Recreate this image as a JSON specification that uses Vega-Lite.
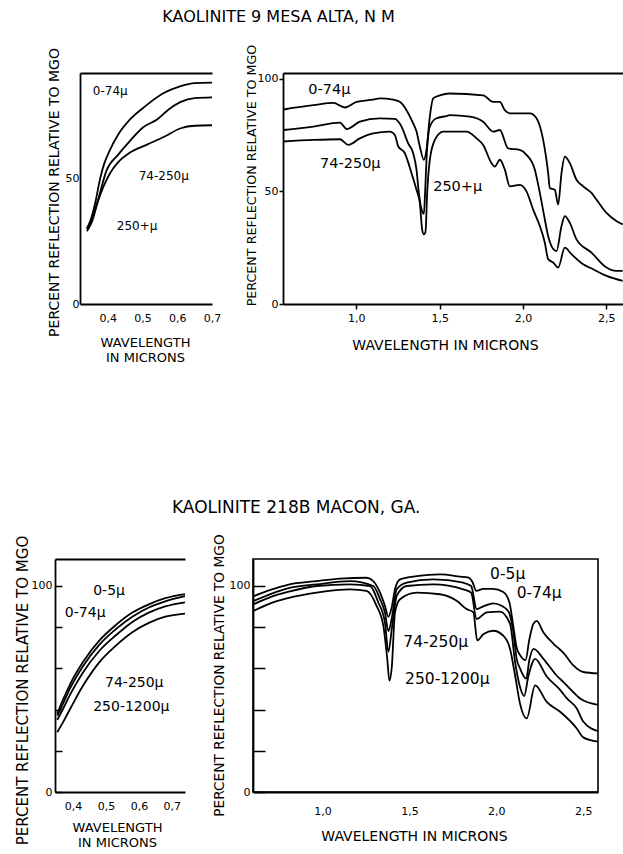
{
  "$schema": "https://vega.github.io/schema/vega-lite/v6.json",
  "background": "white",
  "padding": {"left": 10, "top": 9, "right": 0, "bottom": 0},
  "config": {
    "font": "DejaVu Sans",
    "view": {"stroke": null},
    "axis": {
      "labelFont": "DejaVu Sans", "titleFont": "DejaVu Sans",
      "labelFontSize": 11, "labelColor": "black", "titleColor": "black",
      "domainColor": "black", "domainWidth": 1.8, "tickColor": "black", "tickWidth": 1.5,
      "grid": false, "titleFontWeight": "normal", "labelFontWeight": "normal",
      "labelFlush": false, "labelOverlap": false
    },
    "title": {"font": "DejaVu Sans", "fontSize": 16, "fontWeight": "normal", "color": "black"},
    "line": {"color": "black", "strokeWidth": 1.8, "interpolate": "monotone"},
    "text": {"color": "black", "fontSize": 12.5, "align": "left", "baseline": "middle"}
  },
  "datasets": {
    "c1": [
      {"series": "0-74", "wavelength": 0.340, "reflectance": 30},
      {"series": "0-74", "wavelength": 0.352, "reflectance": 34},
      {"series": "0-74", "wavelength": 0.365, "reflectance": 41},
      {"series": "0-74", "wavelength": 0.378, "reflectance": 50},
      {"series": "0-74", "wavelength": 0.390, "reflectance": 56},
      {"series": "0-74", "wavelength": 0.405, "reflectance": 61},
      {"series": "0-74", "wavelength": 0.430, "reflectance": 67.5},
      {"series": "0-74", "wavelength": 0.464, "reflectance": 73.5},
      {"series": "0-74", "wavelength": 0.510, "reflectance": 79},
      {"series": "0-74", "wavelength": 0.561, "reflectance": 84},
      {"series": "0-74", "wavelength": 0.610, "reflectance": 86.8},
      {"series": "0-74", "wavelength": 0.650, "reflectance": 88},
      {"series": "0-74", "wavelength": 0.700, "reflectance": 88.2},
      {"series": "74-250", "wavelength": 0.340, "reflectance": 30},
      {"series": "74-250", "wavelength": 0.355, "reflectance": 34},
      {"series": "74-250", "wavelength": 0.372, "reflectance": 41.5},
      {"series": "74-250", "wavelength": 0.396, "reflectance": 53},
      {"series": "74-250", "wavelength": 0.430, "reflectance": 59.5},
      {"series": "74-250", "wavelength": 0.464, "reflectance": 65},
      {"series": "74-250", "wavelength": 0.503, "reflectance": 70.5},
      {"series": "74-250", "wavelength": 0.542, "reflectance": 73.5},
      {"series": "74-250", "wavelength": 0.575, "reflectance": 77.5},
      {"series": "74-250", "wavelength": 0.610, "reflectance": 80.5},
      {"series": "74-250", "wavelength": 0.650, "reflectance": 82},
      {"series": "74-250", "wavelength": 0.700, "reflectance": 82.3},
      {"series": "250+", "wavelength": 0.340, "reflectance": 29},
      {"series": "250+", "wavelength": 0.355, "reflectance": 33},
      {"series": "250+", "wavelength": 0.372, "reflectance": 41},
      {"series": "250+", "wavelength": 0.406, "reflectance": 52},
      {"series": "250+", "wavelength": 0.430, "reflectance": 56.5},
      {"series": "250+", "wavelength": 0.464, "reflectance": 60.3},
      {"series": "250+", "wavelength": 0.513, "reflectance": 63.5},
      {"series": "250+", "wavelength": 0.561, "reflectance": 66.5},
      {"series": "250+", "wavelength": 0.610, "reflectance": 70},
      {"series": "250+", "wavelength": 0.650, "reflectance": 71},
      {"series": "250+", "wavelength": 0.700, "reflectance": 71.2}
    ],
    "t1": [
      {"label": "0-74μ", "wavelength": 0.357, "reflectance": 85},
      {"label": "74-250μ", "wavelength": 0.489, "reflectance": 51},
      {"label": "250+μ", "wavelength": 0.426, "reflectance": 31}
    ],
    "c2": [
      {"series": "0-74", "wavelength": 0.562, "reflectance": 86.3},
      {"series": "0-74", "wavelength": 0.742, "reflectance": 88.2},
      {"series": "0-74", "wavelength": 0.862, "reflectance": 89.2},
      {"series": "0-74", "wavelength": 0.932, "reflectance": 87.2},
      {"series": "0-74", "wavelength": 1.002, "reflectance": 89.7},
      {"series": "0-74", "wavelength": 1.101, "reflectance": 90.7},
      {"series": "0-74", "wavelength": 1.141, "reflectance": 91.2},
      {"series": "0-74", "wavelength": 1.221, "reflectance": 90.7},
      {"series": "0-74", "wavelength": 1.261, "reflectance": 89.7},
      {"series": "0-74", "wavelength": 1.301, "reflectance": 86},
      {"series": "0-74", "wavelength": 1.341, "reflectance": 80.1},
      {"series": "0-74", "wavelength": 1.361, "reflectance": 76.5},
      {"series": "0-74", "wavelength": 1.381, "reflectance": 69.9},
      {"series": "0-74", "wavelength": 1.405, "reflectance": 64},
      {"series": "0-74", "wavelength": 1.421, "reflectance": 68.4},
      {"series": "0-74", "wavelength": 1.441, "reflectance": 83.1},
      {"series": "0-74", "wavelength": 1.461, "reflectance": 91.2},
      {"series": "0-74", "wavelength": 1.501, "reflectance": 92.6},
      {"series": "0-74", "wavelength": 1.561, "reflectance": 93.4},
      {"series": "0-74", "wavelength": 1.761, "reflectance": 92.6},
      {"series": "0-74", "wavelength": 1.821, "reflectance": 89.7},
      {"series": "0-74", "wavelength": 1.861, "reflectance": 89.7},
      {"series": "0-74", "wavelength": 1.891, "reflectance": 86},
      {"series": "0-74", "wavelength": 1.921, "reflectance": 84.6},
      {"series": "0-74", "wavelength": 2.041, "reflectance": 84.6},
      {"series": "0-74", "wavelength": 2.081, "reflectance": 82.4},
      {"series": "0-74", "wavelength": 2.121, "reflectance": 72.8},
      {"series": "0-74", "wavelength": 2.151, "reflectance": 58.1},
      {"series": "0-74", "wavelength": 2.161, "reflectance": 51.5},
      {"series": "0-74", "wavelength": 2.191, "reflectance": 50.7},
      {"series": "0-74", "wavelength": 2.211, "reflectance": 44.1},
      {"series": "0-74", "wavelength": 2.231, "reflectance": 58.1},
      {"series": "0-74", "wavelength": 2.251, "reflectance": 65.4},
      {"series": "0-74", "wavelength": 2.281, "reflectance": 62.5},
      {"series": "0-74", "wavelength": 2.321, "reflectance": 55.1},
      {"series": "0-74", "wavelength": 2.361, "reflectance": 52.2},
      {"series": "0-74", "wavelength": 2.411, "reflectance": 49.3},
      {"series": "0-74", "wavelength": 2.441, "reflectance": 46.3},
      {"series": "0-74", "wavelength": 2.501, "reflectance": 40.4},
      {"series": "0-74", "wavelength": 2.560, "reflectance": 36.8},
      {"series": "0-74", "wavelength": 2.598, "reflectance": 35.3},
      {"series": "74-250", "wavelength": 0.562, "reflectance": 77.2},
      {"series": "74-250", "wavelength": 0.742, "reflectance": 78.7},
      {"series": "74-250", "wavelength": 0.902, "reflectance": 80.5},
      {"series": "74-250", "wavelength": 0.942, "reflectance": 77.6},
      {"series": "74-250", "wavelength": 1.021, "reflectance": 80.9},
      {"series": "74-250", "wavelength": 1.141, "reflectance": 82.4},
      {"series": "74-250", "wavelength": 1.231, "reflectance": 82.1},
      {"series": "74-250", "wavelength": 1.271, "reflectance": 78.7},
      {"series": "74-250", "wavelength": 1.311, "reflectance": 71.3},
      {"series": "74-250", "wavelength": 1.341, "reflectance": 66.9},
      {"series": "74-250", "wavelength": 1.361, "reflectance": 59.6},
      {"series": "74-250", "wavelength": 1.375, "reflectance": 49.3},
      {"series": "74-250", "wavelength": 1.391, "reflectance": 42},
      {"series": "74-250", "wavelength": 1.405, "reflectance": 40},
      {"series": "74-250", "wavelength": 1.413, "reflectance": 50},
      {"series": "74-250", "wavelength": 1.421, "reflectance": 64},
      {"series": "74-250", "wavelength": 1.441, "reflectance": 78.7},
      {"series": "74-250", "wavelength": 1.481, "reflectance": 82.4},
      {"series": "74-250", "wavelength": 1.541, "reflectance": 83.4},
      {"series": "74-250", "wavelength": 1.561, "reflectance": 83.8},
      {"series": "74-250", "wavelength": 1.681, "reflectance": 83.1},
      {"series": "74-250", "wavelength": 1.761, "reflectance": 80.9},
      {"series": "74-250", "wavelength": 1.821, "reflectance": 76.5},
      {"series": "74-250", "wavelength": 1.861, "reflectance": 77.2},
      {"series": "74-250", "wavelength": 1.911, "reflectance": 69.1},
      {"series": "74-250", "wavelength": 1.981, "reflectance": 68.4},
      {"series": "74-250", "wavelength": 2.021, "reflectance": 66.2},
      {"series": "74-250", "wavelength": 2.071, "reflectance": 59.6},
      {"series": "74-250", "wavelength": 2.101, "reflectance": 49.3},
      {"series": "74-250", "wavelength": 2.131, "reflectance": 37.5},
      {"series": "74-250", "wavelength": 2.151, "reflectance": 30.1},
      {"series": "74-250", "wavelength": 2.171, "reflectance": 25.7},
      {"series": "74-250", "wavelength": 2.201, "reflectance": 23.5},
      {"series": "74-250", "wavelength": 2.231, "reflectance": 34.6},
      {"series": "74-250", "wavelength": 2.251, "reflectance": 39},
      {"series": "74-250", "wavelength": 2.281, "reflectance": 36},
      {"series": "74-250", "wavelength": 2.321, "reflectance": 28.7},
      {"series": "74-250", "wavelength": 2.411, "reflectance": 22.8},
      {"series": "74-250", "wavelength": 2.501, "reflectance": 16.2},
      {"series": "74-250", "wavelength": 2.560, "reflectance": 14.7},
      {"series": "74-250", "wavelength": 2.598, "reflectance": 14.7},
      {"series": "250+", "wavelength": 0.562, "reflectance": 72.1},
      {"series": "250+", "wavelength": 0.742, "reflectance": 72.8},
      {"series": "250+", "wavelength": 0.902, "reflectance": 73.1},
      {"series": "250+", "wavelength": 0.952, "reflectance": 70.6},
      {"series": "250+", "wavelength": 1.021, "reflectance": 73.5},
      {"series": "250+", "wavelength": 1.101, "reflectance": 75.7},
      {"series": "250+", "wavelength": 1.201, "reflectance": 76.5},
      {"series": "250+", "wavelength": 1.231, "reflectance": 75},
      {"series": "250+", "wavelength": 1.251, "reflectance": 70},
      {"series": "250+", "wavelength": 1.291, "reflectance": 66.9},
      {"series": "250+", "wavelength": 1.331, "reflectance": 58.1},
      {"series": "250+", "wavelength": 1.361, "reflectance": 50.7},
      {"series": "250+", "wavelength": 1.381, "reflectance": 44.9},
      {"series": "250+", "wavelength": 1.395, "reflectance": 33},
      {"series": "250+", "wavelength": 1.405, "reflectance": 30.9},
      {"series": "250+", "wavelength": 1.415, "reflectance": 32},
      {"series": "250+", "wavelength": 1.425, "reflectance": 49.3},
      {"series": "250+", "wavelength": 1.441, "reflectance": 64},
      {"series": "250+", "wavelength": 1.471, "reflectance": 72.8},
      {"series": "250+", "wavelength": 1.521, "reflectance": 76.5},
      {"series": "250+", "wavelength": 1.561, "reflectance": 76.5},
      {"series": "250+", "wavelength": 1.661, "reflectance": 76.5},
      {"series": "250+", "wavelength": 1.721, "reflectance": 73.5},
      {"series": "250+", "wavelength": 1.761, "reflectance": 70.6},
      {"series": "250+", "wavelength": 1.811, "reflectance": 62.5},
      {"series": "250+", "wavelength": 1.831, "reflectance": 61},
      {"series": "250+", "wavelength": 1.861, "reflectance": 64},
      {"series": "250+", "wavelength": 1.891, "reflectance": 59.6},
      {"series": "250+", "wavelength": 1.921, "reflectance": 52.2},
      {"series": "250+", "wavelength": 1.981, "reflectance": 52.9},
      {"series": "250+", "wavelength": 2.021, "reflectance": 50},
      {"series": "250+", "wavelength": 2.061, "reflectance": 41.9},
      {"series": "250+", "wavelength": 2.101, "reflectance": 34.6},
      {"series": "250+", "wavelength": 2.131, "reflectance": 27.2},
      {"series": "250+", "wavelength": 2.151, "reflectance": 19.9},
      {"series": "250+", "wavelength": 2.181, "reflectance": 18.4},
      {"series": "250+", "wavelength": 2.211, "reflectance": 16.2},
      {"series": "250+", "wavelength": 2.251, "reflectance": 25},
      {"series": "250+", "wavelength": 2.291, "reflectance": 22.1},
      {"series": "250+", "wavelength": 2.361, "reflectance": 17.6},
      {"series": "250+", "wavelength": 2.421, "reflectance": 15.4},
      {"series": "250+", "wavelength": 2.501, "reflectance": 12.5},
      {"series": "250+", "wavelength": 2.598, "reflectance": 10.3}
    ],
    "t2": [
      {"label": "0-74μ", "wavelength": 0.712, "reflectance": 95},
      {"label": "74-250μ", "wavelength": 0.782, "reflectance": 62},
      {"label": "250+μ", "wavelength": 1.461, "reflectance": 52}
    ],
    "c3": [
      {"series": "0-5", "wavelength": 0.352, "reflectance": 38},
      {"series": "0-5", "wavelength": 0.37, "reflectance": 45},
      {"series": "0-5", "wavelength": 0.39, "reflectance": 52},
      {"series": "0-5", "wavelength": 0.43, "reflectance": 63},
      {"series": "0-5", "wavelength": 0.48, "reflectance": 73.5},
      {"series": "0-5", "wavelength": 0.53, "reflectance": 81},
      {"series": "0-5", "wavelength": 0.58, "reflectance": 87},
      {"series": "0-5", "wavelength": 0.63, "reflectance": 91},
      {"series": "0-5", "wavelength": 0.68, "reflectance": 94},
      {"series": "0-5", "wavelength": 0.74, "reflectance": 96},
      {"series": "0-74", "wavelength": 0.352, "reflectance": 37},
      {"series": "0-74", "wavelength": 0.37, "reflectance": 43},
      {"series": "0-74", "wavelength": 0.39, "reflectance": 50},
      {"series": "0-74", "wavelength": 0.43, "reflectance": 61},
      {"series": "0-74", "wavelength": 0.48, "reflectance": 71.5},
      {"series": "0-74", "wavelength": 0.53, "reflectance": 79},
      {"series": "0-74", "wavelength": 0.58, "reflectance": 85},
      {"series": "0-74", "wavelength": 0.63, "reflectance": 89.5},
      {"series": "0-74", "wavelength": 0.68, "reflectance": 92.5},
      {"series": "0-74", "wavelength": 0.74, "reflectance": 95},
      {"series": "74-250", "wavelength": 0.352, "reflectance": 35},
      {"series": "74-250", "wavelength": 0.37, "reflectance": 40.5},
      {"series": "74-250", "wavelength": 0.39, "reflectance": 47},
      {"series": "74-250", "wavelength": 0.43, "reflectance": 58},
      {"series": "74-250", "wavelength": 0.48, "reflectance": 68.5},
      {"series": "74-250", "wavelength": 0.53, "reflectance": 76},
      {"series": "74-250", "wavelength": 0.58, "reflectance": 82.5},
      {"series": "74-250", "wavelength": 0.63, "reflectance": 87},
      {"series": "74-250", "wavelength": 0.68, "reflectance": 90},
      {"series": "74-250", "wavelength": 0.74, "reflectance": 92},
      {"series": "250-1200", "wavelength": 0.352, "reflectance": 29},
      {"series": "250-1200", "wavelength": 0.37, "reflectance": 34},
      {"series": "250-1200", "wavelength": 0.39, "reflectance": 40},
      {"series": "250-1200", "wavelength": 0.43, "reflectance": 51.5},
      {"series": "250-1200", "wavelength": 0.48, "reflectance": 63},
      {"series": "250-1200", "wavelength": 0.53, "reflectance": 71},
      {"series": "250-1200", "wavelength": 0.58, "reflectance": 77.5},
      {"series": "250-1200", "wavelength": 0.63, "reflectance": 82},
      {"series": "250-1200", "wavelength": 0.68, "reflectance": 85},
      {"series": "250-1200", "wavelength": 0.74, "reflectance": 86.5}
    ],
    "t3": [
      {"label": "0-5μ", "wavelength": 0.461, "reflectance": 97.5},
      {"label": "0-74μ", "wavelength": 0.375, "reflectance": 87},
      {"label": "74-250μ", "wavelength": 0.497, "reflectance": 53},
      {"label": "250-1200μ", "wavelength": 0.461, "reflectance": 41}
    ],
    "c4": [
      {"series": "0-5", "wavelength": 0.605, "reflectance": 95},
      {"series": "0-5", "wavelength": 0.70, "reflectance": 98},
      {"series": "0-5", "wavelength": 0.80, "reflectance": 100.5},
      {"series": "0-5", "wavelength": 0.966, "reflectance": 102.3},
      {"series": "0-5", "wavelength": 1.10, "reflectance": 103.5},
      {"series": "0-5", "wavelength": 1.254, "reflectance": 103.9},
      {"series": "0-5", "wavelength": 1.292, "reflectance": 102.3},
      {"series": "0-5", "wavelength": 1.331, "reflectance": 96.7},
      {"series": "0-5", "wavelength": 1.359, "reflectance": 90.3},
      {"series": "0-5", "wavelength": 1.379, "reflectance": 85},
      {"series": "0-5", "wavelength": 1.398, "reflectance": 89.5},
      {"series": "0-5", "wavelength": 1.417, "reflectance": 98.3},
      {"series": "0-5", "wavelength": 1.446, "reflectance": 103.1},
      {"series": "0-5", "wavelength": 1.542, "reflectance": 104.7},
      {"series": "0-5", "wavelength": 1.676, "reflectance": 105.5},
      {"series": "0-5", "wavelength": 1.791, "reflectance": 104.5},
      {"series": "0-5", "wavelength": 1.84, "reflectance": 104},
      {"series": "0-5", "wavelength": 1.862, "reflectance": 102},
      {"series": "0-5", "wavelength": 1.885, "reflectance": 97.5},
      {"series": "0-5", "wavelength": 1.925, "reflectance": 98.5},
      {"series": "0-5", "wavelength": 1.98, "reflectance": 98.5},
      {"series": "0-5", "wavelength": 2.04, "reflectance": 97},
      {"series": "0-5", "wavelength": 2.075, "reflectance": 92},
      {"series": "0-5", "wavelength": 2.095, "reflectance": 82},
      {"series": "0-5", "wavelength": 2.117, "reflectance": 70},
      {"series": "0-5", "wavelength": 2.14, "reflectance": 66},
      {"series": "0-5", "wavelength": 2.168, "reflectance": 64},
      {"series": "0-5", "wavelength": 2.19, "reflectance": 74},
      {"series": "0-5", "wavelength": 2.213, "reflectance": 81.5},
      {"series": "0-5", "wavelength": 2.232, "reflectance": 83},
      {"series": "0-5", "wavelength": 2.271, "reflectance": 77.4},
      {"series": "0-5", "wavelength": 2.328, "reflectance": 72},
      {"series": "0-5", "wavelength": 2.367, "reflectance": 69},
      {"series": "0-5", "wavelength": 2.386, "reflectance": 67.5},
      {"series": "0-5", "wavelength": 2.443, "reflectance": 61.4},
      {"series": "0-5", "wavelength": 2.50, "reflectance": 58.2},
      {"series": "0-5", "wavelength": 2.585, "reflectance": 57.5},
      {"series": "0-74", "wavelength": 0.605, "reflectance": 92.7},
      {"series": "0-74", "wavelength": 0.70, "reflectance": 96},
      {"series": "0-74", "wavelength": 0.80, "reflectance": 98.8},
      {"series": "0-74", "wavelength": 0.966, "reflectance": 100.7},
      {"series": "0-74", "wavelength": 1.158, "reflectance": 102.3},
      {"series": "0-74", "wavelength": 1.292, "reflectance": 99.9},
      {"series": "0-74", "wavelength": 1.331, "reflectance": 93.5},
      {"series": "0-74", "wavelength": 1.359, "reflectance": 87.1},
      {"series": "0-74", "wavelength": 1.379, "reflectance": 78},
      {"series": "0-74", "wavelength": 1.40, "reflectance": 85},
      {"series": "0-74", "wavelength": 1.427, "reflectance": 98.3},
      {"series": "0-74", "wavelength": 1.484, "reflectance": 101.5},
      {"series": "0-74", "wavelength": 1.637, "reflectance": 103.1},
      {"series": "0-74", "wavelength": 1.81, "reflectance": 101.5},
      {"series": "0-74", "wavelength": 1.855, "reflectance": 99.9},
      {"series": "0-74", "wavelength": 1.887, "reflectance": 88.7},
      {"series": "0-74", "wavelength": 1.925, "reflectance": 90},
      {"series": "0-74", "wavelength": 1.983, "reflectance": 91.5},
      {"series": "0-74", "wavelength": 2.03, "reflectance": 90.3},
      {"series": "0-74", "wavelength": 2.07, "reflectance": 87.5},
      {"series": "0-74", "wavelength": 2.098, "reflectance": 77.4},
      {"series": "0-74", "wavelength": 2.117, "reflectance": 64.6},
      {"series": "0-74", "wavelength": 2.136, "reflectance": 60},
      {"series": "0-74", "wavelength": 2.172, "reflectance": 55},
      {"series": "0-74", "wavelength": 2.19, "reflectance": 64},
      {"series": "0-74", "wavelength": 2.215, "reflectance": 69.4},
      {"series": "0-74", "wavelength": 2.271, "reflectance": 64.6},
      {"series": "0-74", "wavelength": 2.347, "reflectance": 56.5},
      {"series": "0-74", "wavelength": 2.386, "reflectance": 53.3},
      {"series": "0-74", "wavelength": 2.43, "reflectance": 49.5},
      {"series": "0-74", "wavelength": 2.482, "reflectance": 45.3},
      {"series": "0-74", "wavelength": 2.585, "reflectance": 42.2},
      {"series": "74-250", "wavelength": 0.605, "reflectance": 91.1},
      {"series": "74-250", "wavelength": 0.70, "reflectance": 94.5},
      {"series": "74-250", "wavelength": 0.80, "reflectance": 97},
      {"series": "74-250", "wavelength": 0.966, "reflectance": 99.9},
      {"series": "74-250", "wavelength": 1.158, "reflectance": 100.7},
      {"series": "74-250", "wavelength": 1.273, "reflectance": 99.9},
      {"series": "74-250", "wavelength": 1.321, "reflectance": 91.9},
      {"series": "74-250", "wavelength": 1.359, "reflectance": 82.3},
      {"series": "74-250", "wavelength": 1.379, "reflectance": 68},
      {"series": "74-250", "wavelength": 1.40, "reflectance": 80},
      {"series": "74-250", "wavelength": 1.427, "reflectance": 95.1},
      {"series": "74-250", "wavelength": 1.484, "reflectance": 99.9},
      {"series": "74-250", "wavelength": 1.637, "reflectance": 100.7},
      {"series": "74-250", "wavelength": 1.81, "reflectance": 98.3},
      {"series": "74-250", "wavelength": 1.855, "reflectance": 96.7},
      {"series": "74-250", "wavelength": 1.887, "reflectance": 83.9},
      {"series": "74-250", "wavelength": 1.945, "reflectance": 87.1},
      {"series": "74-250", "wavelength": 2.021, "reflectance": 87.5},
      {"series": "74-250", "wavelength": 2.079, "reflectance": 81.5},
      {"series": "74-250", "wavelength": 2.108, "reflectance": 63},
      {"series": "74-250", "wavelength": 2.136, "reflectance": 51},
      {"series": "74-250", "wavelength": 2.16, "reflectance": 46.5},
      {"series": "74-250", "wavelength": 2.184, "reflectance": 56},
      {"series": "74-250", "wavelength": 2.223, "reflectance": 64.6},
      {"series": "74-250", "wavelength": 2.29, "reflectance": 56},
      {"series": "74-250", "wavelength": 2.367, "reflectance": 49.5},
      {"series": "74-250", "wavelength": 2.405, "reflectance": 45.5},
      {"series": "74-250", "wavelength": 2.463, "reflectance": 40.5},
      {"series": "74-250", "wavelength": 2.50, "reflectance": 34.2},
      {"series": "74-250", "wavelength": 2.585, "reflectance": 29.5},
      {"series": "250-1200", "wavelength": 0.605, "reflectance": 87.9},
      {"series": "250-1200", "wavelength": 0.70, "reflectance": 91.5},
      {"series": "250-1200", "wavelength": 0.80, "reflectance": 94},
      {"series": "250-1200", "wavelength": 0.966, "reflectance": 96.7},
      {"series": "250-1200", "wavelength": 1.158, "reflectance": 98.3},
      {"series": "250-1200", "wavelength": 1.254, "reflectance": 97.5},
      {"series": "250-1200", "wavelength": 1.311, "reflectance": 90.3},
      {"series": "250-1200", "wavelength": 1.35, "reflectance": 80.6},
      {"series": "250-1200", "wavelength": 1.372, "reflectance": 65},
      {"series": "250-1200", "wavelength": 1.385, "reflectance": 54},
      {"series": "250-1200", "wavelength": 1.398, "reflectance": 60},
      {"series": "250-1200", "wavelength": 1.417, "reflectance": 87.1},
      {"series": "250-1200", "wavelength": 1.446, "reflectance": 93.5},
      {"series": "250-1200", "wavelength": 1.542, "reflectance": 96.7},
      {"series": "250-1200", "wavelength": 1.676, "reflectance": 95.9},
      {"series": "250-1200", "wavelength": 1.772, "reflectance": 92.7},
      {"series": "250-1200", "wavelength": 1.829, "reflectance": 88.7},
      {"series": "250-1200", "wavelength": 1.868, "reflectance": 87.1},
      {"series": "250-1200", "wavelength": 1.89, "reflectance": 73.5},
      {"series": "250-1200", "wavelength": 1.925, "reflectance": 76.5},
      {"series": "250-1200", "wavelength": 1.983, "reflectance": 78.2},
      {"series": "250-1200", "wavelength": 2.04, "reflectance": 75.8},
      {"series": "250-1200", "wavelength": 2.079, "reflectance": 69.4},
      {"series": "250-1200", "wavelength": 2.108, "reflectance": 56.5},
      {"series": "250-1200", "wavelength": 2.136, "reflectance": 43},
      {"series": "250-1200", "wavelength": 2.175, "reflectance": 35.7},
      {"series": "250-1200", "wavelength": 2.223, "reflectance": 51.7},
      {"series": "250-1200", "wavelength": 2.29, "reflectance": 43.7},
      {"series": "250-1200", "wavelength": 2.367, "reflectance": 38.9},
      {"series": "250-1200", "wavelength": 2.463, "reflectance": 30.8},
      {"series": "250-1200", "wavelength": 2.50, "reflectance": 26.5},
      {"series": "250-1200", "wavelength": 2.585, "reflectance": 24.4}
    ],
    "t4": [
      {"label": "0-5μ", "wavelength": 1.964, "reflectance": 105.5},
      {"label": "0-74μ", "wavelength": 2.117, "reflectance": 96.7},
      {"label": "74-250μ", "wavelength": 1.465, "reflectance": 72.6},
      {"label": "250-1200μ", "wavelength": 1.475, "reflectance": 55}
    ]
  },
  "spacing": 135,
  "vconcat": [
    {
      "title": {"text": "KAOLINITE 9 MESA ALTA, N M", "anchor": "middle", "frame": "bounds", "offset": 19, "dx": -58},
      "bounds": "flush",
      "spacing": 71,
      "hconcat": [
        {
          "width": 157, "height": 231,
          "layer": [
            {
              "data": {"name": "c1"},
              "mark": {"type": "line"},
              "encoding": {
                "x": {"field": "wavelength", "type": "quantitative", "scale": {"domain": [0.32, 0.70], "range": [25, 157], "nice": false, "zero": false},
                  "axis": {"values": [0.4, 0.5, 0.6, 0.7], "labelExpr": "replace(format(datum.value, '.1f'), '.', ',')", "ticks": false, "labelPadding": 8,
                    "title": ["WAVELENGTH", "IN MICRONS"], "titleFontSize": 13, "titleLineHeight": 15, "titleX": 90, "titleY": 32}},
                "y": {"field": "reflectance", "type": "quantitative", "scale": {"domain": [0, 92], "nice": false},
                  "axis": {"values": [0, 50], "ticks": false, "labelPadding": 1, "offset": -25,
                    "title": "PERCENT REFLECTION RELATIVE TO MGO", "titleFontSize": 14, "titleX": -19, "titleY": 119}},
                "detail": {"field": "series", "type": "nominal"}
              }
            },
            {
              "data": {"name": "t1"},
              "mark": {"type": "text", "fontSize": 12},
              "encoding": {
                "x": {"field": "wavelength", "type": "quantitative", "axis": {"orient": "top", "labels": false, "ticks": false, "title": null}},
                "y": {"field": "reflectance", "type": "quantitative"},
                "text": {"field": "label", "type": "nominal"}
              }
            }
          ],
          "resolve": {"axis": {"x": "independent"}}
        },
        {
          "width": 340, "height": 231,
          "layer": [
            {
              "data": {"name": "c2"},
              "mark": {"type": "line"},
              "encoding": {
                "x": {"field": "wavelength", "type": "quantitative", "scale": {"domain": [0.56, 2.6], "nice": false, "zero": false},
                  "axis": {"values": [1.0, 1.5, 2.0, 2.5], "labelExpr": "replace(format(datum.value, '.1f'), '.', ',')", "tickSize": 5, "labelPadding": 3,
                    "title": "WAVELENGTH IN MICRONS", "titleFontSize": 14, "titleX": 162, "titleY": 34}},
                "y": {"field": "reflectance", "type": "quantitative", "scale": {"domain": [0, 102.5], "nice": false},
                  "axis": {"values": [0, 50, 100], "tickSize": 4, "labelPadding": 1,
                    "title": "PERCENT REFLECTION RELATIVE TO MGO", "titleFontSize": 12.7, "titleX": -25, "titleY": 102}},
                "detail": {"field": "series", "type": "nominal"}
              }
            },
            {
              "data": {"name": "t2"},
              "mark": {"type": "text", "fontSize": 14.5},
              "encoding": {
                "x": {"field": "wavelength", "type": "quantitative", "axis": {"orient": "top", "labels": false, "ticks": false, "title": null}},
                "y": {"field": "reflectance", "type": "quantitative"},
                "text": {"field": "label", "type": "nominal"}
              }
            }
          ],
          "resolve": {"axis": {"x": "independent"}}
        }
      ]
    },
    {
      "title": {"text": "KAOLINITE 218B MACON, GA.", "anchor": "middle", "frame": "bounds", "offset": 16, "dx": -10, "fontSize": 17},
      "bounds": "flush",
      "spacing": 68,
      "hconcat": [
        {
          "width": 130, "height": 233,
          "layer": [
            {
              "data": {"name": "c3"},
              "mark": {"type": "line"},
              "encoding": {
                "x": {"field": "wavelength", "type": "quantitative", "scale": {"domain": [0.345, 0.74], "nice": false, "zero": false},
                  "axis": {"values": [0.4, 0.5, 0.6, 0.7], "labelExpr": "replace(format(datum.value, '.1f'), '.', ',')", "ticks": false, "labelPadding": 8,
                    "title": ["WAVELENGTH", "IN MICRONS"], "titleFontSize": 13, "titleLineHeight": 15, "titleX": 62, "titleY": 29}},
                "y": {"field": "reflectance", "type": "quantitative", "scale": {"domain": [0, 113], "nice": false},
                  "axis": {"values": [0, 10, 50, 20, 100, 30, 40, 60, 70, 80, 90], "labelExpr": "datum.value == 0 || datum.value == 50 || datum.value == 100 ? datum.label : ''",
                    "labelOverlap": false, "labelSeparation": 0,
                    "tickSize": -7, "labelPadding": 10, "minExtent": 45,
                    "title": "PERCENT REFLECTION RELATIVE TO MGO", "titleFontSize": 15, "titleX": -25, "titleY": 131}},
                "detail": {"field": "series", "type": "nominal"}
              }
            },
            {
              "data": {"name": "t3"},
              "mark": {"type": "text", "fontSize": 14},
              "encoding": {
                "x": {"field": "wavelength", "type": "quantitative", "axis": {"orient": "top", "labels": false, "ticks": false, "title": null}},
                "y": {"field": "reflectance", "type": "quantitative"},
                "text": {"field": "label", "type": "nominal"}
              }
            }
          ],
          "resolve": {"axis": {"x": "independent"}}
        },
        {
          "width": 345, "height": 233,
          "view": {"stroke": "black", "strokeWidth": 1.6},
          "layer": [
            {
              "data": {"name": "c4"},
              "mark": {"type": "line"},
              "encoding": {
                "x": {"field": "wavelength", "type": "quantitative", "scale": {"domain": [0.6, 2.585], "nice": false, "zero": false},
                  "axis": {"values": [1.0, 1.5, 2.0, 2.5], "labelExpr": "replace(format(datum.value, '.1f'), '.', ',')", "ticks": false, "labelPadding": 13,
                    "title": "WAVELENGTH IN MICRONS", "titleFontSize": 14, "titleX": 161, "titleY": 37}},
                "y": {"field": "reflectance", "type": "quantitative", "scale": {"domain": [0, 113], "nice": false},
                  "axis": {"values": [0, 10, 50, 20, 100, 30, 40, 60, 70, 80, 90], "labelExpr": "datum.value == 0 || datum.value == 50 || datum.value == 100 ? datum.label : ''",
                    "labelOverlap": false, "labelSeparation": 0,
                    "tickSize": -12, "labelPadding": 15,
                    "title": "PERCENT REFLECTION RELATIVE TO MGO", "titleFontSize": 13.7, "titleX": -27, "titleY": 116}},
                "detail": {"field": "series", "type": "nominal"}
              }
            },
            {
              "data": {"name": "t4"},
              "mark": {"type": "text", "fontSize": 15.5},
              "encoding": {
                "x": {"field": "wavelength", "type": "quantitative"},
                "y": {"field": "reflectance", "type": "quantitative"},
                "text": {"field": "label", "type": "nominal"}
              }
            }
          ]
        }
      ]
    }
  ]
}
